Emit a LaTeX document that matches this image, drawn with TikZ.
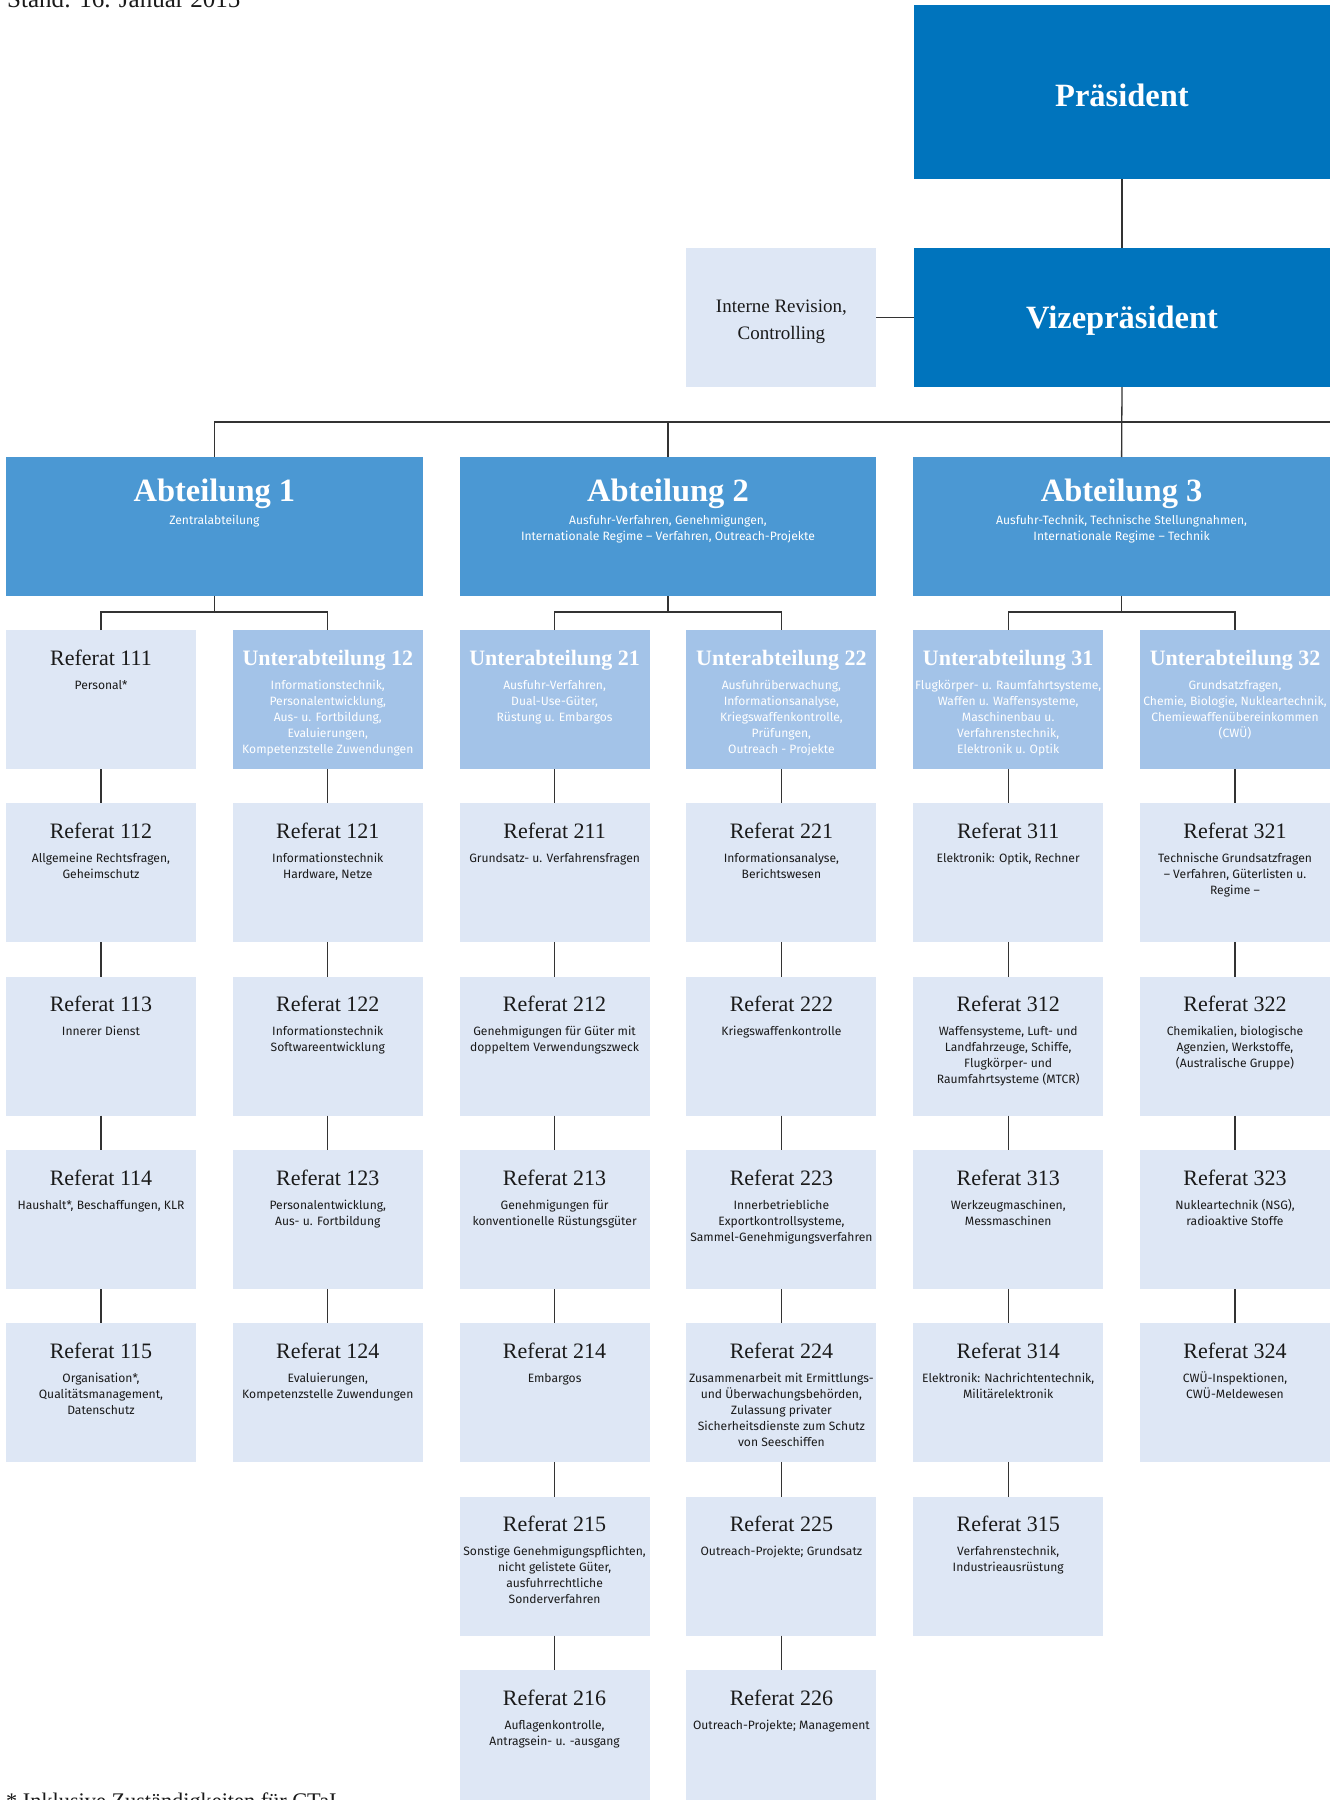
\documentclass[tikz,border=0pt]{standalone}
\usepackage{fontspec}
\setmainfont{Liberation Serif}
\newfontfamily\sansf{Fira Sans}
\definecolor{prescol}{HTML}{0074BD}
\definecolor{abtcol}{HTML}{4B98D3}
\definecolor{ucol}{HTML}{A3C3E8}
\definecolor{refcol}{HTML}{DEE7F5}
\definecolor{linecol}{HTML}{333333}
\definecolor{txtcol}{HTML}{1A1A1A}
\tikzset{
  conn/.style={draw=linecol, line width=1.3pt},
  basebox/.style={rectangle, inner sep=0pt, outer sep=0pt, draw=none},
  refbox/.style={basebox, fill=refcol, minimum width=190pt, minimum height=139pt},
  refttl/.style={inner sep=0pt, text=txtcol, font=\fontsize{22}{26}\selectfont},
  refsub/.style={inner sep=0pt, text=txtcol, align=center, font=\sansf\fontsize{12.1}{16}\selectfont},
  ubox/.style={basebox, fill=ucol, minimum width=190pt, minimum height=139pt},
  uttl/.style={inner sep=0pt, text=white, font=\bfseries\fontsize{22}{26}\selectfont},
  usub/.style={inner sep=0pt, text=white, align=center, font=\sansf\fontsize{12.1}{16}\selectfont},
  abtbox/.style={basebox, fill=abtcol, minimum width=416.8pt, minimum height=139pt},
  abtttl/.style={inner sep=0pt, text=white, font=\bfseries\fontsize{32.5}{36}\selectfont},
  abtsub/.style={inner sep=0pt, text=white, align=center, font=\sansf\fontsize{12.1}{16}\selectfont},
  presbox/.style={basebox, fill=prescol, minimum width=416pt},
  presttl/.style={inner sep=0pt, text=white, font=\bfseries\fontsize{32.5}{36}\selectfont},
}
% #1 kind, #2 name, #3 x, #4 y, #5 title offset, #6 sub offset, #7 title, #8 sub
\newcommand\orgbox[8]{%
  \node[#1box, anchor=north west] (#2) at (#3,#4) {};
  \node[#1ttl, anchor=base] (#2-t) at ([yshift=-#5pt]#2.north) {#7};
  \node[#1sub, anchor=north] (#2-s) at ([yshift=-#6pt]#2.north) {\strut #8};
}
\begin{document}
\begin{tikzpicture}[x=1pt,y=-1pt]
\useasboundingbox (0,0) rectangle (1330,1800);
\clip (0,0) rectangle (1330,1800);

% header and footer
\node[anchor=base west, inner sep=0pt, text=txtcol, font=\fontsize{25}{28}\selectfont] (stand) at (7,7.5) {Stand: 16. Januar 2015};
\node[anchor=base west, inner sep=0pt, text=txtcol, font=\fontsize{22.3}{26}\selectfont] (foot) at (6,1808) {* Inklusive Zuständigkeiten für CTaI};

% top level
\node[presbox, minimum height=174pt, anchor=north west] (pres) at (914,5) {};
\node[presttl] (pres-t) at ([yshift=-3pt]pres.center) {Präsident};
\node[presbox, minimum height=139pt, anchor=north west] (vize) at (914,248) {};
\node[presttl] (vize-t) at ([yshift=-3pt]vize.center) {Vizepräsident};
\node[refbox, anchor=north west] (rev) at (686.4,248) {};
\node[inner sep=0pt, text=txtcol, align=center, anchor=north, font=\fontsize{19}{27}\selectfont] (rev-t) at (781.4,293.1) {\strut Interne Revision,\\Controlling};

% Abteilungen
\orgbox{abt}{abt1}{6}{457}{44}{55.8}{Abteilung 1}{Zentralabteilung}
\orgbox{abt}{abt2}{459.6}{457}{44}{55.8}{Abteilung 2}{Ausfuhr-Verfahren, Genehmigungen,\\Internationale Regime – Verfahren, Outreach-Projekte}
\orgbox{abt}{abt3}{913.2}{457}{44}{55.8}{Abteilung 3}{Ausfuhr-Technik, Technische Stellungnahmen,\\Internationale Regime – Technik}

% Column 1
\orgbox{ref}{r111}{6}{630}{35}{47.8}{Referat 111}{Personal*}
\orgbox{ref}{r112}{6}{803.33}{35}{47.8}{Referat 112}{Allgemeine Rechtsfragen,\\Geheimschutz}
\orgbox{ref}{r113}{6}{976.67}{35}{47.8}{Referat 113}{Innerer Dienst}
\orgbox{ref}{r114}{6}{1150}{35}{47.8}{Referat 114}{Haushalt*, Beschaffungen, KLR}
\orgbox{ref}{r115}{6}{1323.33}{35}{47.8}{Referat 115}{Organisation*,\\Qualitätsmanagement,\\Datenschutz}

% Column 2
\orgbox{u}{u12}{232.8}{630}{35}{47.8}{Unterabteilung 12}{Informationstechnik,\\Personalentwicklung,\\Aus- u. Fortbildung,\\Evaluierungen,\\Kompetenzstelle Zuwendungen}
\orgbox{ref}{r121}{232.8}{803.33}{35}{47.8}{Referat 121}{Informationstechnik\\Hardware, Netze}
\orgbox{ref}{r122}{232.8}{976.67}{35}{47.8}{Referat 122}{Informationstechnik\\Softwareentwicklung}
\orgbox{ref}{r123}{232.8}{1150}{35}{47.8}{Referat 123}{Personalentwicklung,\\Aus- u. Fortbildung}
\orgbox{ref}{r124}{232.8}{1323.33}{35}{47.8}{Referat 124}{Evaluierungen,\\Kompetenzstelle Zuwendungen}

% Column 3
\orgbox{u}{u21}{459.6}{630}{35}{47.8}{Unterabteilung 21}{Ausfuhr-Verfahren,\\Dual-Use-Güter,\\Rüstung u. Embargos}
\orgbox{ref}{r211}{459.6}{803.33}{35}{47.8}{Referat 211}{Grundsatz- u. Verfahrensfragen}
\orgbox{ref}{r212}{459.6}{976.67}{35}{47.8}{Referat 212}{Genehmigungen für Güter mit\\doppeltem Verwendungszweck}
\orgbox{ref}{r213}{459.6}{1150}{35}{47.8}{Referat 213}{Genehmigungen für\\konventionelle Rüstungsgüter}
\orgbox{ref}{r214}{459.6}{1323.33}{35}{47.8}{Referat 214}{Embargos}
\orgbox{ref}{r215}{459.6}{1496.67}{35}{47.8}{Referat 215}{Sonstige Genehmigungspflichten,\\nicht gelistete Güter,\\ausfuhrrechtliche\\Sonderverfahren}
\orgbox{ref}{r216}{459.6}{1670}{35}{47.8}{Referat 216}{Auflagenkontrolle,\\Antragsein- u. -ausgang}

% Column 4
\orgbox{u}{u22}{686.4}{630}{35}{47.8}{Unterabteilung 22}{Ausfuhrüberwachung,\\Informationsanalyse,\\Kriegswaffenkontrolle,\\Prüfungen,\\Outreach - Projekte}
\orgbox{ref}{r221}{686.4}{803.33}{35}{47.8}{Referat 221}{Informationsanalyse,\\Berichtswesen}
\orgbox{ref}{r222}{686.4}{976.67}{35}{47.8}{Referat 222}{Kriegswaffenkontrolle}
\orgbox{ref}{r223}{686.4}{1150}{35}{47.8}{Referat 223}{Innerbetriebliche\\Exportkontrollsysteme,\\Sammel-Genehmigungsverfahren}
\orgbox{ref}{r224}{686.4}{1323.33}{35}{47.8}{Referat 224}{Zusammenarbeit mit Ermittlungs-\\und Überwachungsbehörden,\\Zulassung privater\\Sicherheitsdienste zum Schutz\\von Seeschiffen}
\orgbox{ref}{r225}{686.4}{1496.67}{35}{47.8}{Referat 225}{Outreach-Projekte; Grundsatz}
\orgbox{ref}{r226}{686.4}{1670}{35}{47.8}{Referat 226}{Outreach-Projekte; Management}

% Column 5
\orgbox{u}{u31}{913.2}{630}{35}{47.8}{Unterabteilung 31}{Flugkörper- u. Raumfahrtsysteme,\\Waffen u. Waffensysteme,\\Maschinenbau u.\\Verfahrenstechnik,\\Elektronik u. Optik}
\orgbox{ref}{r311}{913.2}{803.33}{35}{47.8}{Referat 311}{Elektronik: Optik, Rechner}
\orgbox{ref}{r312}{913.2}{976.67}{35}{47.8}{Referat 312}{Waffensysteme, Luft- und\\Landfahrzeuge, Schiffe,\\Flugkörper- und\\Raumfahrtsysteme (MTCR)}
\orgbox{ref}{r313}{913.2}{1150}{35}{47.8}{Referat 313}{Werkzeugmaschinen,\\Messmaschinen}
\orgbox{ref}{r314}{913.2}{1323.33}{35}{47.8}{Referat 314}{Elektronik: Nachrichtentechnik,\\Militärelektronik}
\orgbox{ref}{r315}{913.2}{1496.67}{35}{47.8}{Referat 315}{Verfahrenstechnik,\\Industrieausrüstung}

% Column 6
\orgbox{u}{u32}{1140}{630}{35}{47.8}{Unterabteilung 32}{Grundsatzfragen,\\Chemie, Biologie, Nukleartechnik,\\Chemiewaffenübereinkommen\\(CWÜ)}
\orgbox{ref}{r321}{1140}{803.33}{35}{47.8}{Referat 321}{Technische Grundsatzfragen\\– Verfahren, Güterlisten u.\\Regime –}
\orgbox{ref}{r322}{1140}{976.67}{35}{47.8}{Referat 322}{Chemikalien, biologische\\Agenzien, Werkstoffe,\\(Australische Gruppe)}
\orgbox{ref}{r323}{1140}{1150}{35}{47.8}{Referat 323}{Nukleartechnik (NSG),\\radioaktive Stoffe}
\orgbox{ref}{r324}{1140}{1323.33}{35}{47.8}{Referat 324}{CWÜ-Inspektionen,\\CWÜ-Meldewesen}

% connectors: top
\draw[conn] (pres.south) -- (vize.north);
\draw[conn] (rev.east) -- (vize.west);
\coordinate (busR) at (1330,422);
\draw[conn] (vize.south) -- (abt3.north);
\draw[conn] (abt1.north) |- (busR);
\draw[conn] (abt2.north) -- (abt2.north |- busR);

% Abteilung to first row
\draw[conn] (abt1.south) -- ++(0,16) coordinate (b1);
\draw[conn] (r111.north) |- (b1) -| (u12.north);
\draw[conn] (abt2.south) -- ++(0,16) coordinate (b2);
\draw[conn] (u21.north) |- (b2) -| (u22.north);
\draw[conn] (abt3.south) -- ++(0,16) coordinate (b3);
\draw[conn] (u31.north) |- (b3) -| (u32.north);

% vertical chains
\foreach \a/\b in {r111/r112, r112/r113, r113/r114, r114/r115,
  u12/r121, r121/r122, r122/r123, r123/r124,
  u21/r211, r211/r212, r212/r213, r213/r214, r214/r215, r215/r216,
  u22/r221, r221/r222, r222/r223, r223/r224, r224/r225, r225/r226,
  u31/r311, r311/r312, r312/r313, r313/r314, r314/r315,
  u32/r321, r321/r322, r322/r323, r323/r324}
  \draw[conn] (\a.south) -- (\b.north);
\end{tikzpicture}
\end{document}
